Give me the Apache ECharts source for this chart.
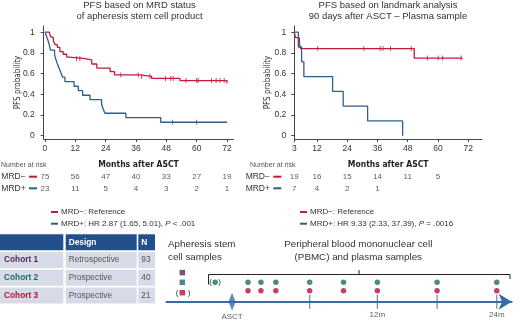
<!DOCTYPE html>
<html>
<head>
<meta charset="utf-8" />
<script src="https://cdn.jsdelivr.net/npm/echarts@6/dist/echarts.min.js"></script>
</head>
<body style="margin:0">
<div id="main" style="width:520px;height:321px;"></div>
<script>
// survival curves: [months, probability] at each event
const aphNeg = [[0,1],[1.7,0.987],[2.2,0.96],[2.7,0.947],[3.3,0.92],[4,0.88],[4.9,0.853],[5.9,0.813],[7.2,0.787],[8.6,0.76],[9.5,0.747],[15.2,0.733],[18.5,0.693],[20.5,0.653],[25.8,0.62],[27.5,0.587],[37.6,0.573],[42.2,0.553],[53.4,0.533],[72,0.507]];
const aphPos = [[0,1],[0.7,0.957],[1.3,0.913],[1.8,0.87],[2.2,0.826],[3.8,0.783],[4.3,0.739],[4.9,0.696],[5.6,0.652],[6.3,0.609],[7,0.565],[7.9,0.522],[11.5,0.478],[13.2,0.435],[14.9,0.391],[17.8,0.348],[22.4,0.304],[23,0.261],[23.7,0.217],[32,0.174],[45.8,0.13],[72,0.13]];
const aphNegCensor = [12.5, 13.8, 30, 36.9, 38.2, 41.5, 47.7, 49.7, 50.7, 55.8, 60, 60.6, 65.9, 67.7, 69.2, 70.9];
const aphPosCensor = [50.5, 60];

const plasmaNeg = [[3,1],[3.5,0.947],[5,0.895],[5.5,0.842],[50.6,0.75],[69.8,0.75]];
const plasmaPos = [[3,1],[4.6,0.857],[5.9,0.714],[6.8,0.571],[18.2,0.429],[22.4,0.286],[32.1,0.143],[46,0]];
const plasmaNegCensor = [12.3, 30.6, 37.1, 38.2, 41.2, 49.4, 55.8, 60.1, 61.9, 69.2];

// number at risk
const leftTicks = [0, 12, 24, 36, 48, 60, 72];
const rightTicks = [3, 12, 24, 36, 48, 60, 72];
const probTicks = [0, 0.2, 0.4, 0.6, 0.8, 1];
const aphNegRisk = [75, 56, 47, 40, 33, 27, 19];
const aphPosRisk = [23, 11, 5, 4, 3, 2, 1];
const plasmaNegRisk = [19, 16, 15, 14, 11, 5];
const plasmaPosRisk = [7, 4, 2, 1];

const nameNeg = 'MRD−: Reference';
const namePosL = 'MRD+: HR 2.87 (1.65, 5.01), P < .001';
const namePosR = 'MRD+: HR 9.33 (2.33, 37.39), P = .0016';

// cohort table
const tableHead = ['', 'Design', 'N'];
const cohorts = ['Cohort 1', 'Cohort 2', 'Cohort 3'];
const designs = ['Retrospective', 'Prospective', 'Prospective'];
const nPatients = [93, 40, 21];

// sampling timeline (months, as drawn)
const visitMonths = [-1, 0.3, 1.8, 5.2, 8.6, 12, 18, 24];
const timelineTicks = [5.2, 12, 18, 24];
const timelineLabels = [12, 24];
const asctMonth = -2.6;
const preSampleMonth = -4.3;
const apheresisMonth = -7.6;

const RED = '#c41a3b', BLUE = '#2d5f8d';
const PURPLE = '#55295a', TEAL = '#1f6b69', CRIMSON = '#b3123d', NAVY = '#23508a', AXBLUE = '#3a6aa4';
const SANS = '"Liberation Sans", Arial, sans-serif';
const NARROW = '"DejaVu Sans", sans-serif';

function survAt(curve, t) {
    let s = curve[0][1];
    curve.forEach(function (p) { if (p[0] <= t) s = p[1]; });
    return s;
}

const myChart = echarts.init(document.getElementById('main'), null, { renderer: 'canvas' });

function kmX(grid, min, max, ticks) {
    return {
        gridIndex: grid, type: 'value', min: min, max: max,
        axisLine: { onZero: false, lineStyle: { color: '#444', width: 1 } },
        axisTick: { customValues: ticks, length: 3, lineStyle: { color: '#444' } },
        axisLabel: { customValues: ticks, fontSize: 8.5, color: '#333', margin: 5 },
        splitLine: { show: false },
        name: 'Months after ASCT', nameLocation: 'middle', nameGap: 21, nameMoveOverlap: false,
        nameTextStyle: { fontFamily: NARROW, fontStyle: 'condensed', fontWeight: 'bold', fontSize: 8.5, color: '#222' }
    };
}
function kmY(grid, gap, margin) {
    return {
        gridIndex: grid, type: 'value', min: -0.032, max: 1.06,
        axisLine: { show: true, onZero: false, lineStyle: { color: '#444', width: 1 } },
        axisTick: { show: true, customValues: probTicks, length: 3, lineStyle: { color: '#444' } },
        axisLabel: { customValues: probTicks, fontSize: 8.5, color: '#333', margin: margin },
        splitLine: { show: false },
        name: 'PFS probability', nameLocation: 'middle', nameGap: gap, nameMoveOverlap: false,
        nameTextStyle: { fontFamily: NARROW, fontStyle: 'condensed', fontSize: 8, color: '#333' }
    };
}
function riskX(grid, min, max) {
    return { gridIndex: grid, type: 'value', min: min, max: max, show: false };
}
function riskY(grid, margin) {
    return {
        gridIndex: grid, type: 'category', data: ['MRD−', 'MRD+'], inverse: true,
        axisLine: { show: false }, axisTick: { show: false },
        axisLabel: {
            margin: margin, interval: 0,
            formatter: function (v) { return '{n|' + v + '} {' + (v === 'MRD−' ? 'r' : 'b') + '|}'; },
            rich: {
                n: { fontSize: 8.5, color: '#333' },
                r: { width: 8, height: 2, backgroundColor: RED },
                b: { width: 8, height: 2, backgroundColor: BLUE }
            }
        }
    };
}
function kmLine(name, data, color, xi) {
    return {
        name: name, type: 'line', step: 'end', data: data, xAxisIndex: xi, yAxisIndex: xi,
        symbol: 'none', lineStyle: { color: color, width: 1.3 }, itemStyle: { color: color }
    };
}
function censor(curve, times, color, xi) {
    return {
        type: 'scatter', xAxisIndex: xi, yAxisIndex: xi, symbol: 'rect', symbolSize: [1, 5],
        itemStyle: { color: color },
        data: times.map(function (t) { return [t, survAt(curve, t)]; })
    };
}
function riskSeries(ticks, neg, pos, xi) {
    const data = [];
    neg.forEach(function (v, i) { data.push([ticks[i], 'MRD−', v]); });
    pos.forEach(function (v, i) { data.push([ticks[i], 'MRD+', v]); });
    return {
        type: 'scatter', xAxisIndex: xi, yAxisIndex: xi, symbolSize: 1, data: data,
        itemStyle: { color: 'transparent' },
        label: { show: true, position: 'inside', fontSize: 8, color: '#333',
            formatter: function (p) { return p.value[2]; } }
    };
}
function legend(left, names) {
    return {
        orient: 'vertical', left: left, top: 202, itemWidth: 7, itemHeight: 2, itemGap: 1.7,
        icon: 'rect', selectedMode: false, data: names,
        formatter: function (n) { return n.replace(', P', ', {i|P}'); },
        textStyle: { fontSize: 8, color: '#333', lineHeight: 10, padding: [0, 0, 0, -2],
            rich: { i: { fontSize: 8, color: '#333', fontStyle: 'italic' } } }
    };
}

// graphic: titles, labels, table, timeline decoration
const graphics = [];
function addText(x, y, text, extra) {
    graphics.push({ type: 'text', x: x, y: y, silent: true,
        style: Object.assign({ text: text, fontSize: 9.5, fill: '#333', fontFamily: SANS,
            textAlign: 'center', textVerticalAlign: 'middle' }, extra || {}) });
}
addText(139.5, 5.5, 'PFS based on MRD status');
addText(139.5, 16.5, 'of apheresis stem cell product');
addText(388, 5.5, 'PFS based on landmark analysis');
addText(388, 16.5, '90 days after ASCT – Plasma sample');
addText(1, 165, 'Number at risk', { textAlign: 'left', fontSize: 7, fill: '#555' });
addText(250, 165, 'Number at risk', { textAlign: 'left', fontSize: 7, fill: '#555' });

const colX = [0, 65.7, 138.3], colW = [63.3, 71, 16.7];
const rowY = [234.3, 252, 269.7, 287.4], rowH = 16;
tableHead.forEach(function (h, c) {
    graphics.push({ type: 'rect', silent: true, shape: { x: colX[c], y: rowY[0], width: colW[c], height: rowH },
        style: { fill: NAVY } });
    if (h) addText(colX[c] + 3, rowY[0] + rowH / 2, h, { textAlign: 'left', fontSize: 8.3, fontWeight: 'bold', fill: '#fff' });
});
const cohortColors = [PURPLE, TEAL, CRIMSON];
cohorts.forEach(function (name, r) {
    const cells = [name, designs[r], String(nPatients[r])];
    cells.forEach(function (txt, c) {
        graphics.push({ type: 'rect', silent: true, shape: { x: colX[c], y: rowY[r + 1], width: colW[c], height: rowH },
            style: { fill: '#d7dbe7' } });
        addText(colX[c] + (c === 0 ? 4 : 3), rowY[r + 1] + rowH / 2, txt, {
            textAlign: 'left', fontSize: 8.3,
            fontWeight: c === 0 ? 'bold' : 'normal',
            fill: c === 0 ? cohortColors[r] : '#555'
        });
    });
});

addText(168, 244.3, 'Apheresis stem', { textAlign: 'left', fontSize: 9.8 });
addText(168, 257.3, 'cell samples', { textAlign: 'left', fontSize: 9.8 });
addText(358.3, 244.3, 'Peripheral blood mononuclear cell', { fontSize: 9.8 });
addText(358.3, 257.3, '(PBMC) and plasma samples', { fontSize: 9.8 });
addText(177, 292.3, '(', { fontSize: 8 });
addText(189, 292.3, ')', { fontSize: 8 });
addText(210.5, 282, '(', { fontSize: 8 });
addText(219.5, 282, ')', { fontSize: 8 });
graphics.push({ type: 'polyline', silent: true,
    shape: { points: [[208.5, 284.5], [208.5, 274.5], [510, 274.5], [510, 279]] },
    style: { stroke: '#222', lineWidth: 1, fill: null } });
graphics.push({ type: 'line', silent: true, shape: { x1: 359, y1: 274.5, x2: 359, y2: 270 },
    style: { stroke: '#222', lineWidth: 1 } });

const gridBase = { outerBoundsMode: 'none', containLabel: false };
const option = {
    animation: false,
    textStyle: { fontFamily: SANS },
    grid: [
        Object.assign({ left: 43.7, top: 26, width: 189.6, height: 113 }, gridBase),
        Object.assign({ left: 294.3, top: 26, width: 187.7, height: 113 }, gridBase),
        Object.assign({ left: 43.7, top: 170.9, width: 189.6, height: 23.2 }, gridBase),
        Object.assign({ left: 294.3, top: 170.9, width: 187.7, height: 23.2 }, gridBase),
        Object.assign({ left: 166.4, top: 262.9, width: 345.3, height: 48.5 }, gridBase)
    ],
    xAxis: [
        kmX(0, -0.5, 74.5, leftTicks),
        kmX(1, 3, 77.5, rightTicks),
        riskX(2, -0.5, 74.5),
        riskX(3, 3, 77.5),
        {
            gridIndex: 4, type: 'value', min: -9.2, max: 25.5,
            axisLine: { onZero: true, symbol: ['none', 'arrow'], symbolSize: [12, 13],
                lineStyle: { color: AXBLUE, width: 2 } },
            axisTick: { show: false },
            axisLabel: { show: false },
            splitLine: { show: false }
        }
    ],
    yAxis: [
        kmY(0, 21.5, 9),
        kmY(1, 22.5, 8),
        riskY(2, 6.7),
        riskY(3, 13),
        { gridIndex: 4, type: 'value', min: -1, max: 4, show: false }
    ],
    legend: [legend(46, [nameNeg, namePosL]), legend(295, [nameNeg, namePosR])],
    graphic: graphics,
    series: [
        kmLine(nameNeg, aphNeg, RED, 0),
        kmLine(namePosL, aphPos, BLUE, 0),
        censor(aphNeg, aphNegCensor, RED, 0),
        censor(aphPos, aphPosCensor, BLUE, 0),
        kmLine(nameNeg, plasmaNeg, RED, 1),
        kmLine(namePosR, plasmaPos, BLUE, 1),
        censor(plasmaNeg, plasmaNegCensor, RED, 1),
        riskSeries(leftTicks, aphNegRisk, aphPosRisk, 2),
        riskSeries(rightTicks, plasmaNegRisk, plasmaPosRisk, 3),
        {   // timeline tick marks, labelled at 12m and 24m
            type: 'scatter', xAxisIndex: 4, yAxisIndex: 4, symbol: 'rect', symbolSize: [1.2, 14],
            itemStyle: { color: AXBLUE },
            label: { position: 'bottom', distance: 2, fontSize: 8, color: '#333',
                formatter: function (p) { return p.value[0] + 'm'; } },
            data: timelineTicks.map(function (t) {
                return { value: [t, 0], label: { show: timelineLabels.indexOf(t) >= 0 } };
            })
        },
        {   // ASCT
            type: 'scatter', xAxisIndex: 4, yAxisIndex: 4, symbol: 'diamond', symbolSize: [7, 18],
            itemStyle: { color: AXBLUE }, data: [[asctMonth, 0]],
            label: { show: true, position: 'bottom', distance: 2, fontSize: 8, color: '#333', formatter: 'ASCT' }
        },
        {   // PBMC samples
            type: 'scatter', xAxisIndex: 4, yAxisIndex: 4, symbolSize: 5.5, itemStyle: { color: TEAL },
            data: [[preSampleMonth, 2]].concat(visitMonths.map(function (m) { return [m, 2]; }))
        },
        {   // plasma samples
            type: 'scatter', xAxisIndex: 4, yAxisIndex: 4, symbolSize: 5.5, itemStyle: { color: CRIMSON },
            data: visitMonths.map(function (m) { return [m, 1.13]; })
        },
        {   // apheresis samples per cohort
            type: 'scatter', xAxisIndex: 4, yAxisIndex: 4, symbol: 'rect', symbolSize: 5.5,
            data: cohortColors.map(function (c, i) {
                return { value: [apheresisMonth, [3, 2, 0.93][i]], itemStyle: { color: c } };
            })
        }
    ]
};

myChart.setOption(option);
window.addEventListener('resize', myChart.resize);
</script>
</body>
</html>
